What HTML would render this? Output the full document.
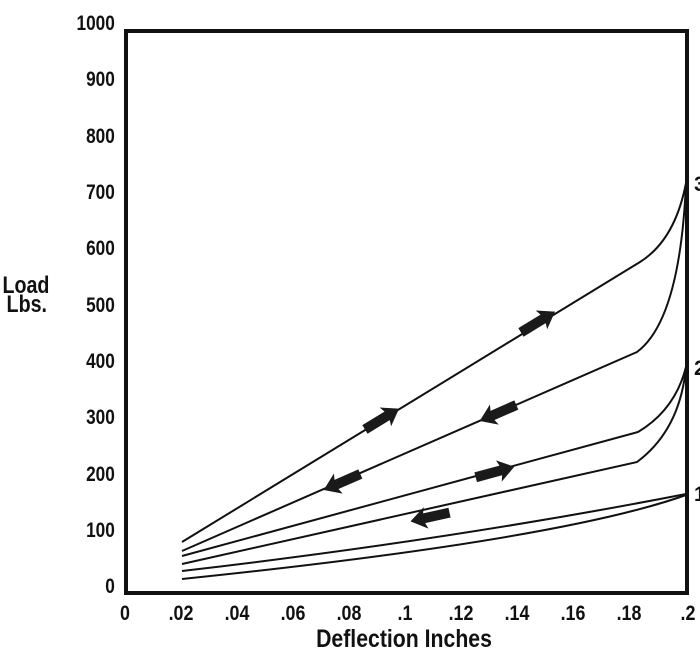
<!DOCTYPE html>
<html><head><style>
body{margin:0;background:#fff}
svg text{font-family:"Liberation Sans",sans-serif;font-weight:bold;font-size:21px;fill:#111}
</style></head><body>
<svg width="700" height="664" viewBox="0 0 700 664" xmlns="http://www.w3.org/2000/svg">
<defs>
<polygon id="ar" points="-20,-5 6,-5 4,-11 20,0 4,11 6,5 -20,5" fill="#1a1a1a"/>
</defs>
<rect x="126" y="31" width="561" height="562" fill="none" stroke="#111" stroke-width="4"/>
<g text-anchor="end" transform="scale(0.82,1)">
<text x="140" y="30">1000</text>
<text x="140" y="86">900</text>
<text x="140" y="143">800</text>
<text x="140" y="199">700</text>
<text x="140" y="255">600</text>
<text x="140" y="312">500</text>
<text x="140" y="368">400</text>
<text x="140" y="424">300</text>
<text x="140" y="481">200</text>
<text x="140" y="537">100</text>
<text x="140" y="593">0</text>
</g>
<g transform="scale(0.82,1)" font-size="24">
<text x="3" y="293" style="font-size:24px">Load</text>
<text x="8" y="312" style="font-size:24px">Lbs.</text>
</g>
<g text-anchor="middle">
<text x="125" y="620" transform="translate(125,0) scale(0.85,1) translate(-125,0)">0</text>
<text x="181" y="620" transform="translate(181,0) scale(0.85,1) translate(-181,0)">.02</text>
<text x="237" y="620" transform="translate(237,0) scale(0.85,1) translate(-237,0)">.04</text>
<text x="293" y="620" transform="translate(293,0) scale(0.85,1) translate(-293,0)">.06</text>
<text x="349" y="620" transform="translate(349,0) scale(0.85,1) translate(-349,0)">.08</text>
<text x="405" y="620" transform="translate(405,0) scale(0.85,1) translate(-405,0)">.1</text>
<text x="461" y="620" transform="translate(461,0) scale(0.85,1) translate(-461,0)">.12</text>
<text x="517" y="620" transform="translate(517,0) scale(0.85,1) translate(-517,0)">.14</text>
<text x="573" y="620" transform="translate(573,0) scale(0.85,1) translate(-573,0)">.16</text>
<text x="629" y="620" transform="translate(629,0) scale(0.85,1) translate(-629,0)">.18</text>
<text x="688" y="620" transform="translate(688,0) scale(0.85,1) translate(-688,0)">.2</text>
<text x="404" y="647" style="font-size:25px" transform="translate(404,0) scale(0.85,1) translate(-404,0)">Deflection Inches</text>
</g>
<text x="694" y="191">3</text>
<text x="694" y="375">2</text>
<text x="694" y="501">1</text>
<g fill="none" stroke="#111" stroke-width="2">
<path d="M182,542 L640,262 Q675,240 686,183"/>
<path d="M182,551 L637,352 Q680,320 686,183"/>
<path d="M182,556 L638,432 Q675,410 686,367"/>
<path d="M182,564 L637,462 Q680,430 686,367"/>
<path d="M182,571 Q450,540 686,494"/>
<path d="M182,579 Q560,540 686,495"/>
</g>
<use href="#ar" transform="translate(382,419) rotate(-31.4)"/>
<use href="#ar" transform="translate(538,322) rotate(-31.4)"/>
<use href="#ar" transform="translate(342,482) rotate(156.4)"/>
<use href="#ar" transform="translate(498,413) rotate(156.4)"/>
<use href="#ar" transform="translate(495,472) rotate(-15.2)"/>
<use href="#ar" transform="translate(430,517) rotate(167.5)"/>
</svg>
</body></html>
